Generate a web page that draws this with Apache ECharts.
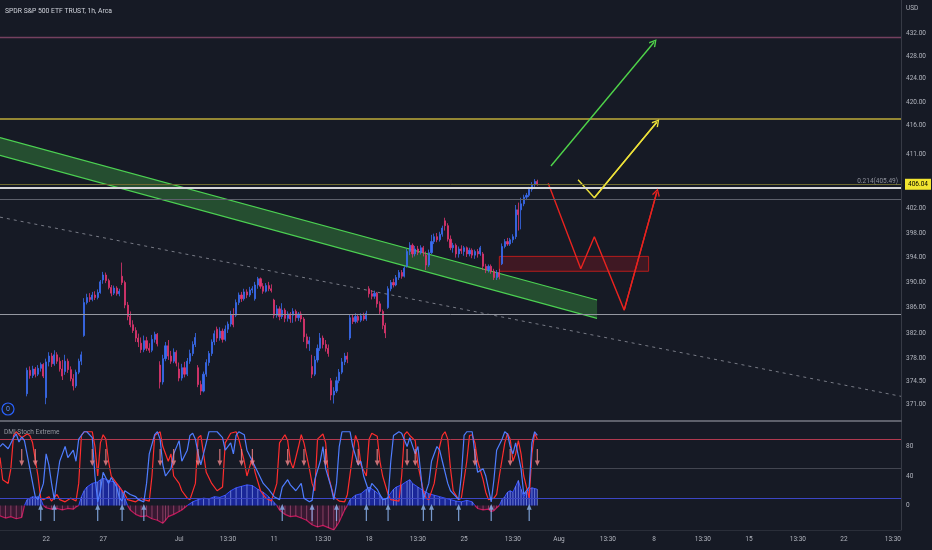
<!DOCTYPE html>
<html><head><meta charset="utf-8">
<script src="https://cdn.jsdelivr.net/npm/echarts@6/dist/echarts.min.js"></script>
<style>html,body{margin:0;padding:0;background:#161a25;}#c{width:932px;height:550px;}</style>
</head><body><div id="c"></div>
<script>
// ---------- data ----------
const tradingDays = ['06-16','06-17','06-21','06-22','06-23','06-24','06-27','06-28','06-29','06-30','07-01','07-05','07-06','07-07','07-08','07-11','07-12','07-13','07-14','07-15','07-18','07-19','07-20','07-21','07-22','07-25','07-26','07-27','07-28','07-29','08-01','08-02','08-03','08-04','08-05','08-08','08-09','08-10','08-11','08-12','08-15','08-16','08-17','08-18','08-19','08-22','08-23','08-24','08-25'];
const sessionHours = ['09:30','10:30','11:30','12:30','13:30','14:30','15:30'];
const xTickLabels = [['06-22 09:30','22'],['06-27 09:30','27'],['07-01 09:30','Jul'],['07-06 13:30','13:30'],['07-11 09:30','11'],['07-13 13:30','13:30'],['07-18 09:30','18'],['07-20 13:30','13:30'],['07-25 09:30','25'],['07-27 13:30','13:30'],['08-01 09:30','Aug'],['08-03 13:30','13:30'],['08-08 09:30','8'],['08-10 13:30','13:30'],['08-15 09:30','15'],['08-17 13:30','13:30'],['08-22 09:30','22'],['08-24 13:30','13:30']];
const priceTicks = [432,428,424,420,416,411,402,398,394,390,386,382,378,374.5,371];
const indicatorTicks = [80,40,0];
const indicatorLevels = [90,50,10];
const firstCandle = '06-21 09:30';
// [open, close, low, high]
const candles = [
[372.6,376.2,372.2,376.6],[376.2,375.4,374.9,376.8],[375.4,376.4,375.0,376.9],[376.4,375.6,375.1,376.7],[375.6,376.5,375.3,377.0],[376.5,377.1,376.0,377.4],[377.1,375.3,375.0,377.3],
[372.0,377.5,371.0,378.0],[377.5,378.4,376.8,379.0],[378.4,377.2,376.7,378.9],[377.2,378.6,376.9,379.3],[378.6,377.6,377.2,379.0],[377.6,376.4,376.0,378.2],[376.4,375.3,374.7,377.8],
[376.0,377.6,375.5,378.6],[377.6,376.3,375.8,378.0],[376.3,374.9,374.5,376.8],[374.9,373.8,373.1,375.6],[373.8,375.9,373.5,376.3],[375.9,377.6,375.6,378.0],[377.6,378.6,377.0,379.1],
[381.6,386.8,381.4,387.5],[386.8,387.6,386.5,388.2],[387.6,387.3,386.9,388.3],[387.3,388.0,387.0,388.5],[388.0,387.6,387.2,388.6],[387.6,388.4,387.3,388.9],[388.4,390.1,388.2,390.4],
[390.4,391.2,389.8,391.7],[391.2,390.3,389.9,391.6],[390.3,389.2,388.9,390.6],[389.2,388.3,387.8,389.6],[388.3,389.1,388.0,389.5],[389.1,388.2,387.9,389.4],[388.2,388.6,387.8,389.0],
[391.0,390.0,389.6,393.2],[390.0,386.4,385.9,390.3],[386.4,384.6,384.0,386.9],[384.6,383.3,382.9,385.4],[383.3,382.4,382.0,384.0],[382.4,381.2,380.6,382.9],[381.2,380.6,379.8,381.9],
[380.4,379.4,378.9,381.3],[379.4,380.8,379.0,381.6],[380.8,379.6,379.2,381.4],[379.6,379.3,378.9,380.4],[379.3,381.0,379.0,381.7],[381.0,381.8,380.5,382.2],[381.8,380.3,379.9,382.0],
[377.0,374.4,373.4,377.6],[374.4,378.0,374.0,378.6],[378.0,380.0,377.6,380.6],[380.0,378.4,377.8,380.9],[378.4,377.6,377.2,379.2],[377.6,379.0,377.3,379.6],[379.0,377.3,376.8,379.3],
[376.4,375.0,374.5,377.4],[375.0,376.6,374.6,377.2],[376.6,375.6,375.1,377.5],[375.6,377.6,375.3,378.1],[377.6,378.8,377.2,379.4],[378.8,380.2,378.4,380.7],[380.2,381.3,379.8,382.0],
[376.6,374.0,373.6,377.0],[374.0,373.0,372.4,374.6],[373.0,375.6,372.8,376.0],[375.6,377.4,375.2,377.9],[377.4,378.8,376.9,379.2],[378.8,380.6,378.4,381.0],[380.6,381.9,380.1,382.4],
[382.6,381.2,380.6,383.0],[381.2,382.3,380.8,382.9],[382.3,381.0,380.5,382.7],[381.0,382.6,380.7,383.2],[382.6,383.4,382.0,383.8],[383.4,384.9,383.0,385.5],[384.9,383.3,382.9,385.9],
[384.8,386.8,384.5,387.3],[386.8,388.0,386.4,388.4],[388.0,387.4,386.9,388.5],[387.4,388.5,387.1,389.0],[388.5,388.0,387.5,388.9],[388.0,388.8,387.7,389.3],[388.8,389.0,388.3,389.4],
[387.4,389.6,387.1,390.1],[389.6,390.6,389.0,390.9],[390.6,389.4,389.0,390.8],[389.4,388.6,388.2,389.9],[388.6,389.5,388.4,389.9],[389.5,389.0,388.6,390.1],[389.0,388.7,388.4,389.7],
[387.2,384.8,384.3,387.4],[384.8,385.8,384.4,386.4],[385.8,384.6,384.0,386.2],[384.6,385.6,384.2,386.7],[385.6,384.3,383.7,385.9],[384.3,385.0,383.8,385.4],[385.0,384.2,383.6,385.3],
[384.8,385.4,383.6,385.9],[385.4,384.4,383.8,385.7],[384.4,385.0,383.9,385.3],[385.0,384.2,383.7,385.4],[384.2,381.4,380.6,384.5],[381.4,380.3,379.6,381.9],[380.3,380.8,379.2,381.4],
[376.8,375.6,375.0,378.6],[375.6,377.8,375.3,378.4],[377.8,379.6,377.4,380.2],[379.6,381.2,379.2,382.0],[381.2,380.2,379.6,381.6],[380.2,379.6,379.1,380.9],[379.6,378.8,378.3,380.2],
[374.6,372.4,371.6,375.0],[372.4,373.0,371.1,373.6],[373.0,374.6,372.7,375.2],[374.6,375.9,374.2,376.4],[375.9,377.5,375.6,378.1],[377.5,378.4,377.0,378.9],[378.4,377.9,377.3,379.0],
[381.2,384.4,380.9,384.9],[384.4,383.8,383.4,384.9],[383.8,384.6,383.5,385.1],[384.6,384.0,383.6,385.0],[384.0,384.7,383.7,385.1],[384.7,384.2,383.9,385.2],[384.2,385.1,383.9,385.5],
[389.0,388.2,387.6,389.4],[388.2,387.8,387.3,388.8],[387.8,388.3,387.4,388.7],[388.3,386.6,386.0,388.5],[386.6,385.4,385.0,387.0],[385.4,383.2,382.6,385.7],[383.2,382.0,381.2,383.6],
[386.0,389.0,385.8,389.4],[389.0,390.0,388.6,390.4],[390.0,389.6,389.2,390.6],[389.6,390.8,389.4,391.2],[390.8,391.6,390.4,392.0],[391.6,391.0,390.6,392.0],[391.0,392.3,390.8,392.6],
[392.6,395.0,392.4,395.4],[395.0,396.0,394.4,396.5],[396.0,394.6,394.0,396.3],[394.6,395.4,394.2,395.9],[395.4,394.8,394.4,395.9],[394.8,395.6,394.5,396.0],[395.6,394.8,394.2,395.9],
[394.4,392.8,392.0,395.0],[392.8,394.8,392.5,395.3],[394.8,396.6,394.6,397.7],[396.6,397.4,396.2,397.9],[397.4,396.9,396.5,398.0],[396.9,397.8,396.6,398.2],[397.8,398.8,397.4,399.2],
[400.0,399.2,398.4,400.5],[399.2,397.0,396.6,399.6],[397.0,395.6,395.2,397.6],[395.6,396.0,394.8,396.4],[396.0,394.6,394.0,396.3],[394.6,395.4,394.0,395.8],[395.4,395.1,394.6,396.0],
[395.0,395.6,394.3,395.9],[395.6,394.6,394.1,395.8],[394.6,395.2,394.2,395.6],[395.2,394.4,393.9,395.5],[394.4,395.0,393.8,395.3],[395.0,394.6,394.0,395.4],[394.6,395.6,394.3,395.9],
[394.6,392.6,392.0,394.9],[392.6,392.0,391.5,393.0],[392.0,392.6,391.6,392.9],[392.6,391.8,391.4,392.9],[391.8,390.8,390.4,392.2],[390.8,391.6,390.4,392.0],[391.6,390.9,390.5,392.2],
[393.0,395.8,392.8,396.3],[395.8,396.6,395.5,397.0],[396.6,396.2,395.9,397.2],[396.2,396.9,395.9,397.2],[396.9,397.4,396.4,397.8],[397.4,401.8,397.0,402.6],[401.8,401.0,398.4,403.0],
[401.8,402.8,398.6,403.8],[402.8,403.9,402.4,404.3],[403.9,404.2,403.4,404.6],[404.2,405.2,403.9,405.6],[405.2,406.0,404.8,406.4],[406.0,406.5,405.6,406.9],[406.5,406.04,405.8,406.8]
];
// horizontal levels (price)
const levelPurple = 431.2;
const levelYellow = 417.1;
const fibRatio = 0.214, fibPrice = 405.49;
const levelGreyUpper = 403.5;
const levelGreyLower = 385.0;
// drawings [time, price]
const dashedTrend = [['06-16 13:30',400.6],['08-25 09:30',372.2]];
const channelTop = [['06-16 13:30',413.9],['08-03 09:30',387.2]];
const channelBottom = [['06-16 13:30',410.9],['08-03 09:30',384.3]];
const zoneBox = [['07-26 15:30',394.2],['08-05 14:30',391.8]];
const greenArrow = [['07-29 13:30',409.1],['08-08 09:30',430.4]];
const yellowPath = [['08-02 09:30',406.8],['08-02 15:30',403.8],['08-08 10:30',416.5]];
const redPath = [['07-29 12:30',406.2],['08-02 10:30',392.2],['08-02 15:30',397.4],['08-04 12:30',385.6],['08-08 10:30',404.7]];
// indicator (bar index, value)
const stochBlue = [[4,80],[5,84],[7,77],[9,92],[10,97],[11,86],[12,93],[13,88],[15,50],[17,12],[18,8],[20,30],[21,70],[22,55],[23,30],[24,8],[25,35],[26,60],[27,70],[28,80],[29,65],[31,75],[32,60],[33,90],[35,100],[36,100],[38,92],[39,40],[40,5],[41,20],[42,45],[44,30],[45,38],[47,25],[48,10],[49,6],[50,20],[52,15],[54,12],[55,8],[57,5],[58,30],[59,70],[61,96],[62,100],[63,90],[64,55],[65,40],[67,50],[68,70],[70,88],[71,60],[73,75],[74,95],[75,98],[76,90],[77,70],[78,55],[80,85],[81,100],[84,100],[86,92],[87,75],[89,85],[90,70],[91,95],[92,100],[94,96],[95,75],[97,60],[99,45],[101,30],[103,22],[105,12],[107,8],[108,25],[110,35],[111,28],[113,20],[115,30],[116,10],[118,5],[119,7],[120,35],[122,60],[123,80],[124,50],[126,25],[127,8],[128,30],[129,80],[130,100],[133,100],[134,80],[136,55],[137,60],[138,40],[140,18],[141,30],[143,22],[144,15],[145,8],[147,10],[148,60],[149,95],[151,100],[152,98],[154,80],[155,92],[157,70],[158,80],[159,45],[160,8],[162,30],[163,60],[165,80],[166,75],[167,60],[169,30],[170,20],[172,12],[173,8],[174,40],[175,95],[176,100],[178,100],[179,70],[180,45],[182,50],[183,40],[185,5],[186,35],[187,75],[189,90],[190,100],[191,97],[192,80],[193,70],[194,85],[196,50],[197,15],[199,25],[200,85],[201,100],[202,95]];
const stochRed = [[4,65],[5,35],[7,30],[8,50],[9,95],[10,100],[12,92],[14,97],[15,95],[16,85],[18,40],[19,10],[20,8],[22,12],[23,6],[25,15],[26,8],[28,5],[30,10],[32,6],[33,30],[34,95],[35,100],[38,100],[39,80],[40,40],[41,85],[42,96],[43,90],[44,60],[45,40],[47,30],[50,15],[51,8],[54,5],[56,10],[57,8],[59,6],[60,40],[61,95],[63,100],[64,80],[66,60],[67,70],[68,40],[70,30],[71,20],[73,10],[74,8],[76,30],[77,92],[78,95],[79,70],[80,45],[82,30],[84,20],[86,25],[87,85],[89,98],[91,100],[92,90],[94,60],[95,40],[97,65],[98,45],[100,20],[102,10],[104,6],[106,30],[107,85],[109,96],[110,88],[111,60],[112,50],[114,80],[115,96],[116,85],[118,50],[119,30],[120,20],[121,90],[123,97],[124,85],[125,40],[127,12],[129,6],[131,5],[132,15],[134,70],[135,95],[136,85],[137,55],[139,40],[140,90],[141,98],[143,94],[144,60],[145,40],[147,15],[148,8],[151,6],[152,40],[153,96],[154,100],[155,95],[157,88],[158,55],[160,20],[161,10],[162,8],[164,30],[166,80],[167,95],[168,100],[169,90],[170,50],[171,20],[173,8],[174,10],[176,60],[177,95],[178,96],[179,85],[180,60],[182,35],[183,18],[184,8],[186,10],[187,15],[188,40],[190,85],[191,98],[192,90],[193,60],[194,70],[195,88],[196,70],[197,40],[198,25],[199,10],[200,70],[201,98],[202,90]];
const dmiOsc = [[4,-14],[6,-17],[8,-15],[10,-18],[12,-16],[13,0],[14,8],[15,10],[16,12],[17,11],[18,12],[19,9],[20,0],[21,-3],[23,-5],[25,-4],[27,-6],[29,-4],[31,-5],[32,-2],[33,0],[34,12],[35,20],[36,25],[38,30],[40,32],[41,35],[42,37],[44,34],[46,32],[47,30],[48,26],[49,20],[50,10],[51,0],[52,-6],[54,-12],[56,-15],[58,-14],[60,-18],[62,-20],[64,-24],[65,-20],[66,-15],[68,-12],[70,-8],[71,-6],[72,-3],[73,0],[75,5],[77,8],[79,10],[81,9],[83,12],[85,11],[87,14],[89,20],[91,24],[93,26],[95,28],[97,27],[99,22],[101,18],[103,12],[104,8],[105,4],[106,0],[107,-6],[109,-12],[111,-15],[113,-14],[115,-17],[117,-20],[119,-26],[121,-29],[123,-27],[125,-30],[127,-33],[128,-28],[129,-22],[130,-14],[131,-6],[132,0],[133,8],[135,14],[137,16],[139,22],[140,25],[142,20],[144,14],[145,10],[146,8],[147,12],[149,22],[150,25],[152,28],[154,33],[155,35],[156,30],[158,25],[160,20],[162,16],[164,14],[166,12],[168,10],[170,8],[172,6],[174,5],[176,7],[178,5],[179,0],[180,-4],[182,-6],[184,-5],[185,-8],[186,-7],[187,-3],[188,0],[189,8],[190,12],[191,18],[192,20],[193,18],[194,26],[195,34],[196,22],[197,12],[198,18],[199,22],[200,24],[201,23],[202,22]];
const sellArrowBars = [12,17,38,43,63,68,77,85,93,97,110,116,124,136,143,154,157,179,192,202];
const buyArrowBars = [19,24,40,49,57,108,119,128,139,147,160,163,173,185,199];

// ---------- build ----------
const L = Math.log;
const categories = [];
tradingDays.forEach(d => sessionHours.forEach(h => categories.push(d + ' ' + h)));
const ix = name => categories.indexOf(name);
const pt = p => [ix(p[0]), L(p[1])];
const tickMap = new Map(xTickLabels);
const start = ix(firstCandle);
const candleData = candles.map((r, k) => [start + k, L(r[0]), L(r[1]), L(r[2]), L(r[3])]);
const lastClose = candles[candles.length - 1][1];

function splitSign(pts, positive) {
  const out = []; let prevIn = false;
  pts.forEach(p => {
    const inside = positive ? p[1] >= 0 : p[1] <= 0;
    if (inside) out.push(p); else if (prevIn) out.push([p[0], '-']);
    prevIn = inside;
  });
  return out;
}

const FONT = 'Roboto';
const TXT = '#b2b5be';
const FS = 6.5;
const chevron = 'path://M5,0 L10,6 L8.8,7 L5,2.2 L1.2,7 L0,6 Z';
const downArrow = 'path://M4,0 L6,0 L6,12 L9,12 L5,18 L1,12 L4,12 Z';
const upArrow = 'path://M5,0 L9,6 L6,6 L6,18 L4,18 L4,6 L1,6 Z';

const chart = echarts.init(document.getElementById('c'), null, {renderer: 'canvas'});
chart.setOption({
  animation: false,
  backgroundColor: '#161a25',
  textStyle: {fontFamily: FONT},
  title: [
    {text: 'SPDR S&P 500 ETF TRUST, 1h, Arca', left: 5, top: 8, padding: 0, textStyle: {color: '#d1d4dc', fontSize: 6.8, fontWeight: 'normal', fontFamily: FONT}},
    {text: 'DMI Stoch Extreme', left: 4, top: 429, padding: 0, textStyle: {color: '#9598a1', fontSize: 6.5, fontWeight: 'normal', fontFamily: FONT}},
    {text: 'USD', left: 906, top: 5, padding: 0, textStyle: {color: TXT, fontSize: FS, fontWeight: 'normal', fontFamily: FONT}}
  ],
  grid: [
    {left: 0, right: 31, top: 0, height: 421, containLabel: false, outerBoundsMode: 'none'},
    {left: 0, right: 31, top: 421, height: 109, containLabel: false, outerBoundsMode: 'none'}
  ],
  xAxis: [
    {type: 'category', gridIndex: 0, data: categories, boundaryGap: false, min: 4, max: 336,
     axisLine: {show: true, onZero: false, lineStyle: {color: '#5d606b', width: 2}}, axisTick: {show: false}, axisLabel: {show: false}, splitLine: {show: false}},
    {type: 'category', gridIndex: 1, data: categories, boundaryGap: false, min: 4, max: 336,
     axisLine: {show: true, onZero: false, lineStyle: {color: '#2a2e39', width: 1}}, axisTick: {show: false}, splitLine: {show: false},
     axisLabel: {show: true, color: TXT, fontSize: FS, fontFamily: FONT, margin: 6, hideOverlap: false,
       interval: (i, v) => tickMap.has(v), formatter: v => tickMap.get(v) || ''}}
  ],
  yAxis: [
    {type: 'value', gridIndex: 0, position: 'right', min: 5.90931, max: 6.08206, scale: true,
     axisLine: {show: true, lineStyle: {color: '#363a45'}}, axisTick: {show: false}, splitLine: {show: false},
     axisLabel: {show: true, color: TXT, fontSize: FS, fontFamily: FONT, margin: 5, customValues: priceTicks.map(L),
       formatter: v => Math.exp(v).toFixed(2)}},
    {type: 'value', gridIndex: 1, position: 'right', min: -33.2, max: 114.6,
     axisLine: {show: true, lineStyle: {color: '#363a45'}}, axisTick: {show: false}, splitLine: {show: false},
     axisLabel: {show: true, color: TXT, fontSize: FS, fontFamily: FONT, margin: 5, customValues: indicatorTicks}}
  ],
  series: [
    // channel
    {type: 'custom', xAxisIndex: 0, yAxisIndex: 0, silent: true, z: 1, clip: true,
     data: [pt(channelTop[0])],
     renderItem: (params, api) => {
       const a = api.coord(pt(channelTop[0])), b = api.coord(pt(channelTop[1]));
       const c = api.coord(pt(channelBottom[1])), d = api.coord(pt(channelBottom[0]));
       return {type: 'group', children: [
         {type: 'polygon', shape: {points: [a, b, c, d]}, style: {fill: 'rgba(60,150,64,0.42)'}},
         {type: 'line', shape: {x1: a[0], y1: a[1], x2: b[0], y2: b[1]}, style: {stroke: '#4cd152', lineWidth: 1.2}},
         {type: 'line', shape: {x1: d[0], y1: d[1], x2: c[0], y2: c[1]}, style: {stroke: '#4cd152', lineWidth: 1.2}}
       ]};
     }},
    // zone box
    {type: 'custom', xAxisIndex: 0, yAxisIndex: 0, silent: true, z: 2, clip: true,
     data: [pt(zoneBox[0])],
     renderItem: (params, api) => {
       const a = api.coord(pt(zoneBox[0])), b = api.coord(pt(zoneBox[1]));
       return {type: 'rect', shape: {x: a[0], y: a[1], width: b[0] - a[0], height: b[1] - a[1]},
         style: {fill: 'rgba(140,22,32,0.35)', stroke: '#b71c1c', lineWidth: 1}};
     }},
    // dashed trend
    {type: 'line', xAxisIndex: 0, yAxisIndex: 0, silent: true, z: 2, symbol: 'none',
     data: dashedTrend.map(pt), lineStyle: {color: '#787b86', width: 1, type: [3, 4]}},
    // candles
    {type: 'candlestick', xAxisIndex: 0, yAxisIndex: 0, z: 3, barWidth: 1.6,
     data: candleData, encode: {x: 0, y: [1, 2, 3, 4]},
     itemStyle: {color: '#3a6cf0', color0: '#e0356f', borderColor: '#3a6cf0', borderColor0: '#e0356f', borderWidth: 0.8},
     markLine: {silent: true, symbol: ['none', 'none'], animation: false, precision: 10,
       data: [
         {yAxis: L(levelPurple), lineStyle: {color: '#74405f', width: 1.3, type: 'solid'}, label: {show: false}},
         {yAxis: L(levelYellow), lineStyle: {color: '#bfad3a', width: 1.5, type: 'solid'}, label: {show: false}},
         {yAxis: L(levelGreyUpper), lineStyle: {color: '#5d606b', width: 1.2, type: 'solid'}, label: {show: false}},
         {yAxis: L(levelGreyLower), lineStyle: {color: '#9598a1', width: 1, type: 'solid'}, label: {show: false}},
         {yAxis: L(lastClose), lineStyle: {color: '#6e6a32', width: 1, type: 'solid'},
          label: {show: true, position: 'end', distance: 4, formatter: () => lastClose.toFixed(2), color: '#000', backgroundColor: '#f2e530',
            padding: [2, 3, 2, 3], fontSize: FS, fontFamily: FONT}},
         {yAxis: L(fibPrice), lineStyle: {color: '#d5d6da', width: 2, type: 'solid'},
          label: {show: true, position: 'insideEndTop', distance: 3, formatter: () => fibRatio + '(' + fibPrice.toFixed(2) + ')', color: '#8c8f99', fontSize: FS, fontFamily: FONT}}
       ]}},
    // projection paths
    {type: 'line', xAxisIndex: 0, yAxisIndex: 0, silent: true, z: 4, symbol: 'none', data: redPath.map(pt), lineStyle: {color: '#e8231f', width: 1.4}},
    {type: 'line', xAxisIndex: 0, yAxisIndex: 0, silent: true, z: 4, symbol: 'none', data: yellowPath.map(pt), lineStyle: {color: '#ece03a', width: 1.4}},
    {type: 'lines', coordinateSystem: 'cartesian2d', xAxisIndex: 0, yAxisIndex: 0, silent: true, z: 5,
     symbol: ['none', chevron], symbolSize: [1, 8],
     lineStyle: {opacity: 1, width: 1.4},
     data: [
       {coords: greenArrow.map(pt), lineStyle: {color: '#4fd34a', width: 1.4, opacity: 1}},
       {coords: yellowPath.slice(-2).map(pt), lineStyle: {color: '#ece03a', width: 1.4, opacity: 1}},
       {coords: redPath.slice(-2).map(pt), lineStyle: {color: '#e8231f', width: 1.4, opacity: 1}}
     ]},
    // indicator: oscillator area
    {type: 'line', xAxisIndex: 1, yAxisIndex: 1, silent: true, z: 2, symbol: 'none', connectNulls: false,
     data: splitSign(dmiOsc, true), lineStyle: {color: '#3650ff', width: 1}, areaStyle: {color: 'rgba(30,48,230,0.85)'}},
    {type: 'line', xAxisIndex: 1, yAxisIndex: 1, silent: true, z: 2, symbol: 'none', connectNulls: false,
     data: splitSign(dmiOsc, false), lineStyle: {color: '#c2185b', width: 1.2}, areaStyle: {color: 'rgba(110,20,70,0.55)'}},
    {type: 'bar', xAxisIndex: 1, yAxisIndex: 1, silent: true, z: 3, barWidth: 1,
     data: dmiOsc.filter(p => p[1] !== 0),
     itemStyle: {color: p => p.value[1] > 0 ? 'rgba(170,190,255,0.55)' : 'rgba(235,110,160,0.45)'}},
    // indicator: stoch lines
    {type: 'line', xAxisIndex: 1, yAxisIndex: 1, silent: true, z: 4, symbol: 'none', data: stochRed, lineStyle: {color: '#ff2d2d', width: 1.2}},
    {type: 'line', xAxisIndex: 1, yAxisIndex: 1, silent: true, z: 5, symbol: 'none', data: stochBlue, lineStyle: {color: '#4f7dff', width: 1.2},
     markLine: {silent: true, symbol: ['none', 'none'], label: {show: false}, animation: false, precision: 10,
       data: [
         {yAxis: indicatorLevels[0], lineStyle: {color: '#b0394f', width: 1, type: 'solid'}},
         {yAxis: indicatorLevels[1], lineStyle: {color: '#434651', width: 1, type: 'solid'}},
         {yAxis: indicatorLevels[2], lineStyle: {color: '#3c46c6', width: 1, type: 'solid'}}
       ]}},
    // signal arrows
    {type: 'scatter', xAxisIndex: 1, yAxisIndex: 1, silent: true, z: 6, symbol: downArrow, symbolSize: [5, 17],
     data: sellArrowBars.map(i => [i, 65]), itemStyle: {color: '#f4868a'}},
    {type: 'scatter', xAxisIndex: 1, yAxisIndex: 1, silent: true, z: 6, symbol: upArrow, symbolSize: [5, 17],
     data: buyArrowBars.map(i => [i, -9.5]), itemStyle: {color: '#8fb8f5'}}
  ],
  graphic: [
    {type: 'circle', shape: {cx: 8, cy: 409, r: 6}, style: {fill: 'none', stroke: '#2962ff', lineWidth: 1.2}, z: 100},
    {type: 'text', x: 8, y: 409, style: {text: '0', fill: '#5b8def', fontSize: 7, fontFamily: FONT, align: 'center', verticalAlign: 'middle', textAlign: 'center', textVerticalAlign: 'middle'}, z: 100}
  ]
});
</script>
</body></html>
